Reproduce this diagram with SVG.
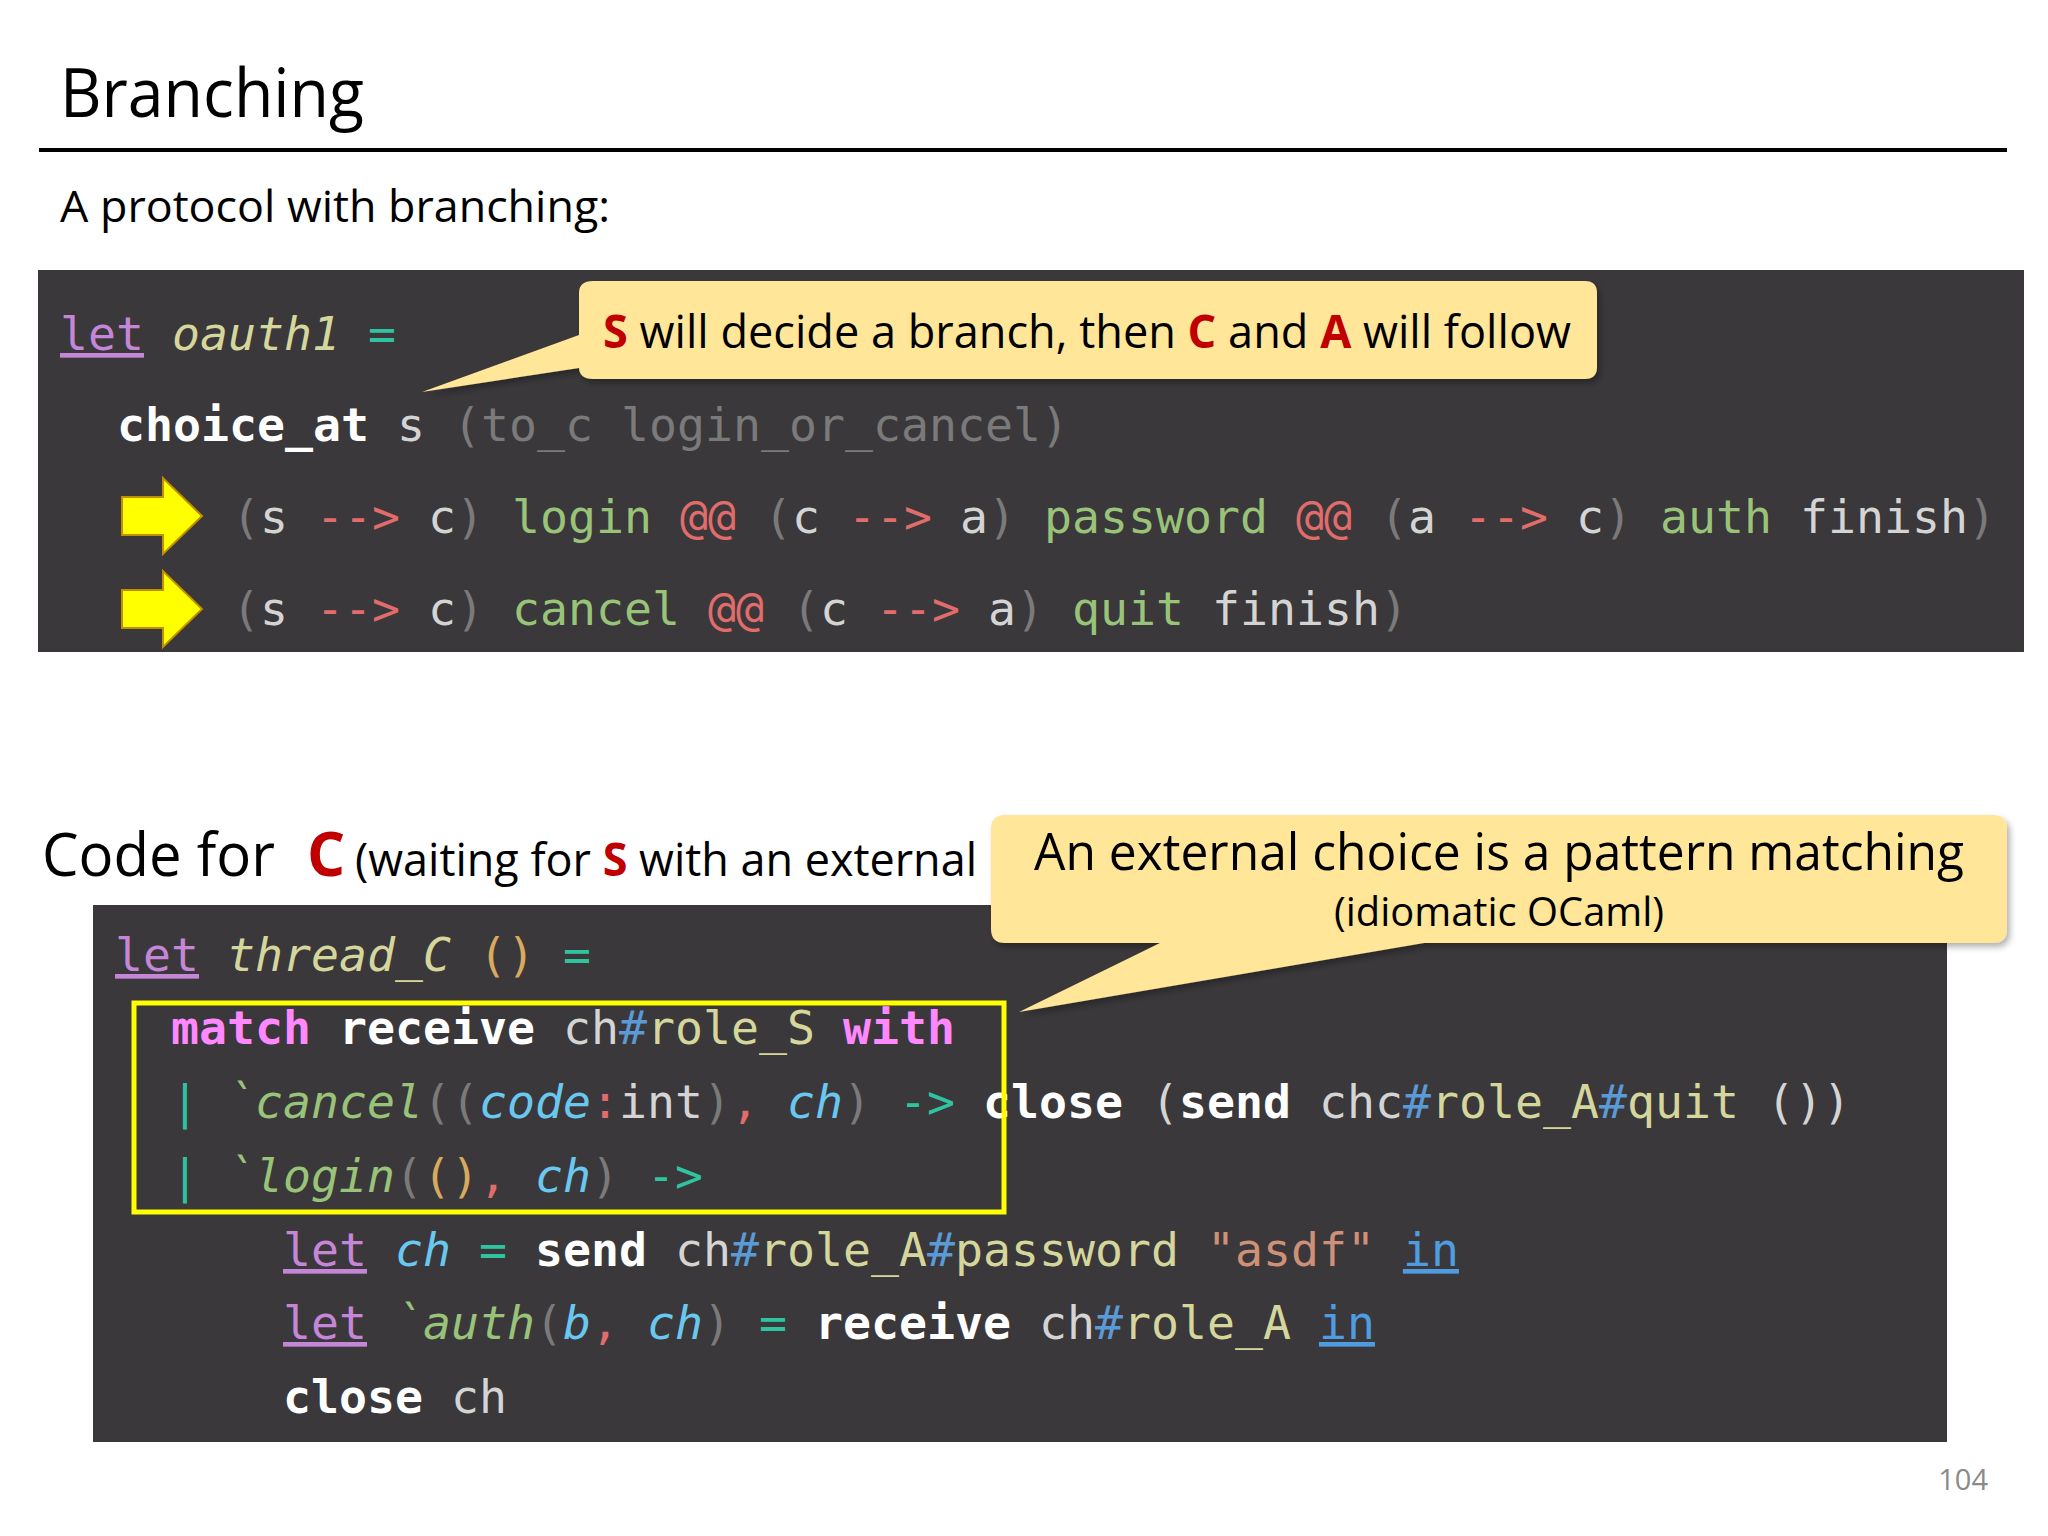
<svg xmlns="http://www.w3.org/2000/svg" width="2048" height="1536" viewBox="0 0 2048 1536">
<defs>
<style>
.code{font-family:"DejaVu Sans Mono",monospace;font-size:46.5px;fill:#d4d4d4}
.sans{font-family:"Open Sans","Noto Sans",sans-serif;fill:#000}
.kw{fill:#c586d8;text-decoration:underline}
.it{font-style:italic}
.b{font-weight:bold;fill:#fff}
.g{fill:#7a7a7a}
.r{fill:#e06c6c}
.gr{fill:#98c379}
.tl{fill:#2ec4a0}
.yl{fill:#d5d69c}
.pk{fill:#ff88ff;font-weight:bold}
.bl{fill:#6ac8f0}
.hs{fill:#5a9ad6}
.or{fill:#d7aa5f}
.st{fill:#ce9178}
.in{fill:#4f9de0;text-decoration:underline}
.red{fill:#c00000;font-weight:bold}
.bub{fill:#ffe699}
.arr{fill:#ffff00;stroke:#c09000;stroke-width:2}
</style>
<filter id="sh" x="-5%" y="-10%" width="110%" height="130%"><feDropShadow dx="3" dy="4" stdDeviation="3" flood-color="#000" flood-opacity="0.3"/></filter>
</defs>
<rect width="2048" height="1536" fill="#fff"/>
<text class="sans" x="60" y="117" font-size="68" textLength="304" lengthAdjust="spacingAndGlyphs">Branching</text>
<line x1="39" y1="150" x2="2007" y2="150" stroke="#000" stroke-width="4"/>
<text class="sans" x="60" y="222" font-size="44" textLength="550" lengthAdjust="spacingAndGlyphs">A protocol with branching:</text>

<g id="code1">
<rect x="38" y="270" width="1986" height="382" fill="#3a383a"/>
<text class="code" xml:space="preserve" x="60" y="350"><tspan class="kw">let</tspan> <tspan class="yl it">oauth1</tspan> <tspan class="tl">=</tspan></text>
<text class="code" xml:space="preserve" x="117" y="441"><tspan class="b">choice_at</tspan> s <tspan class="g">(to_c login_or_cancel)</tspan></text>
<text class="code" xml:space="preserve" x="232" y="533"><tspan class="g">(</tspan>s <tspan class="r">--&gt;</tspan> c<tspan class="g">)</tspan> <tspan class="gr">login</tspan> <tspan class="r">@@</tspan> <tspan class="g">(</tspan>c <tspan class="r">--&gt;</tspan> a<tspan class="g">)</tspan> <tspan class="gr">password</tspan> <tspan class="r">@@</tspan> <tspan class="g">(</tspan>a <tspan class="r">--&gt;</tspan> c<tspan class="g">)</tspan> <tspan class="gr">auth</tspan> finish<tspan class="g">)</tspan></text>
<text class="code" xml:space="preserve" x="232" y="625"><tspan class="g">(</tspan>s <tspan class="r">--&gt;</tspan> c<tspan class="g">)</tspan> <tspan class="gr">cancel</tspan> <tspan class="r">@@</tspan> <tspan class="g">(</tspan>c <tspan class="r">--&gt;</tspan> a<tspan class="g">)</tspan> <tspan class="gr">quit</tspan> finish<tspan class="g">)</tspan></text>
</g>
<g id="arrow1"><polygon class="arr" points="122,497 163,497 163,478 202,516 163,554 163,535 122,535"/></g>
<g id="arrow2"><polygon class="arr" points="122,590 163,590 163,571 202,609 163,647 163,628 122,628"/></g>

<g id="callout1">
<path class="bub" filter="url(#sh)" d="M593,281 H1585 Q1597,281 1597,293 V367 Q1597,379 1585,379 H593 Q579,379 579,367 V368 L422,392 L579,335 V293 Q579,281 593,281 Z"/>
<text class="sans" x="603" y="348" font-size="46" textLength="968" lengthAdjust="spacingAndGlyphs"><tspan class="red">S</tspan> will decide a branch, then <tspan class="red">C</tspan> and <tspan class="red">A</tspan> will follow</text>
</g>

<text class="sans" x="42" y="876" font-size="60" textLength="233" lengthAdjust="spacingAndGlyphs">Code for</text>
<text class="sans red" x="307" y="876" font-size="60">C</text>
<text class="sans" x="355" y="876" font-size="46" textLength="622" lengthAdjust="spacingAndGlyphs">(waiting for <tspan class="red">S</tspan> with an external</text>

<g id="code2">
<rect x="93" y="905" width="1854" height="537" fill="#3a383a"/>
<text class="code" xml:space="preserve" x="115" y="971"><tspan class="kw">let</tspan> <tspan class="yl it">thread_C</tspan> <tspan class="or">()</tspan> <tspan class="tl">=</tspan></text>
<text class="code" xml:space="preserve" x="171" y="1044"><tspan class="pk">match</tspan> <tspan class="b">receive</tspan> ch<tspan class="hs">#</tspan><tspan class="yl">role_S</tspan> <tspan class="pk">with</tspan></text>
<text class="code" xml:space="preserve" x="171" y="1118"><tspan class="tl">|</tspan> <tspan class="gr it">`cancel</tspan><tspan class="g">((</tspan><tspan class="bl it">code</tspan><tspan class="r">:</tspan>int<tspan class="g">)</tspan><tspan class="r">,</tspan> <tspan class="bl it">ch</tspan><tspan class="g">)</tspan> <tspan class="tl">-&gt;</tspan> <tspan class="b">close</tspan> (<tspan class="b">send</tspan> chc<tspan class="hs">#</tspan><tspan class="yl">role_A</tspan><tspan class="hs">#</tspan><tspan class="yl">quit</tspan> ())</text>
<text class="code" xml:space="preserve" x="171" y="1192"><tspan class="tl">|</tspan> <tspan class="gr it">`login</tspan><tspan class="g">(</tspan><tspan class="or">()</tspan><tspan class="r">,</tspan> <tspan class="bl it">ch</tspan><tspan class="g">)</tspan> <tspan class="tl">-&gt;</tspan></text>
<text class="code" xml:space="preserve" x="283" y="1266"><tspan class="kw">let</tspan> <tspan class="bl it">ch</tspan> <tspan class="tl">=</tspan> <tspan class="b">send</tspan> ch<tspan class="hs">#</tspan><tspan class="yl">role_A</tspan><tspan class="hs">#</tspan><tspan class="yl">password</tspan> <tspan class="st">"asdf"</tspan> <tspan class="in">in</tspan></text>
<text class="code" xml:space="preserve" x="283" y="1339"><tspan class="kw">let</tspan> <tspan class="gr it">`auth</tspan><tspan class="g">(</tspan><tspan class="bl it">b</tspan><tspan class="r">,</tspan> <tspan class="bl it">ch</tspan><tspan class="g">)</tspan> <tspan class="tl">=</tspan> <tspan class="b">receive</tspan> ch<tspan class="hs">#</tspan><tspan class="yl">role_A</tspan> <tspan class="in">in</tspan></text>
<text class="code" xml:space="preserve" x="283" y="1413"><tspan class="b">close</tspan> ch</text>
</g>
<g id="highlight"><rect x="134" y="1003" width="870" height="209" fill="none" stroke="#ffff00" stroke-width="5"/></g>

<g id="callout2">
<path class="bub" filter="url(#sh)" d="M1005,815 H1993 Q2007,815 2007,829 V929 Q2007,943 1993,943 H1424 L1019,1012 L1160,943 H1005 Q991,943 991,929 V829 Q991,815 1005,815 Z"/>
<text class="sans" x="1499" y="870" font-size="52" text-anchor="middle" textLength="930" lengthAdjust="spacingAndGlyphs">An external choice is a pattern matching</text>
<text class="sans" x="1499" y="926" font-size="40" text-anchor="middle" textLength="330" lengthAdjust="spacingAndGlyphs">(idiomatic OCaml)</text>
</g>
<text x="1988" y="1490" font-family="Open Sans,sans-serif" font-size="29" fill="#8a8a8a" text-anchor="end">104</text>
</svg>
